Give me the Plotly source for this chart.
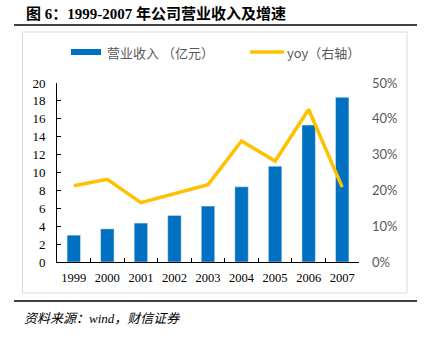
import plotly.graph_objects as go

# Revenue (100 million yuan) and year-over-year growth, 1999-2007
years = ["1999", "2000", "2001", "2002", "2003", "2004", "2005", "2006", "2007"]
revenue = [3.0, 3.7, 4.35, 5.2, 6.25, 8.4, 10.7, 15.3, 18.4]
yoy = [0.213, 0.231, 0.166, 0.19, 0.216, 0.338, 0.282, 0.426, 0.209]

BLUE = "#0070C0"
GOLD = "#FFC000"
GRAY_TXT = "#595959"

W, H = 424, 344
L, R, T, B = 57, 65, 83, 82
PW, PH = W - L - R, H - T - B


def px(x):
    return (x - L) / PW


def py(y):
    return (H - B - y) / PH


fig = go.Figure()
fig.add_trace(go.Bar(x=years, y=revenue, marker_color=BLUE, width=0.4,
                     showlegend=False, yaxis="y"))
fig.add_trace(go.Scatter(x=years, y=yoy, mode="lines", line=dict(color=GOLD, width=3.5),
                         showlegend=False, yaxis="y2"))

serif = "Liberation Serif, Times New Roman, serif"
fig.update_layout(
    width=W, height=H,
    margin=dict(l=L, r=R, t=T, b=B, pad=0),
    paper_bgcolor="white", plot_bgcolor="white",
    xaxis=dict(type="category", range=[-0.5, 8.5], showline=True, linecolor="black",
               linewidth=1, ticks="inside", tickson="boundaries", ticklen=4,
               tickcolor="black", showgrid=False, tickangle=0, ticklabelstandoff=4,
               tickfont=dict(family=serif, size=12.5, color="black")),
    yaxis=dict(range=[0, 20], dtick=2, showline=True, linecolor="black", linewidth=1,
               ticks="inside", ticklen=4, tickcolor="black", showgrid=False, zeroline=False,
               ticklabelstandoff=8,
               tickfont=dict(family=serif, size=13, color="black")),
    yaxis2=dict(range=[0, 0.5], dtick=0.1, tickformat=".0%", overlaying="y", side="right",
                showline=False, showgrid=False, zeroline=False, ticks="",
                ticklabelstandoff=12,
                tickfont=dict(family="Lato, Liberation Sans, sans-serif", size=13, color=GRAY_TXT)),
)

shapes = []
# title rule and footer rule
shapes.append(dict(type="line", xref="paper", yref="paper", x0=px(14), x1=px(417),
                   y0=py(25), y1=py(25), line=dict(color="black", width=1.5)))
shapes.append(dict(type="line", xref="paper", yref="paper", x0=px(14), x1=px(417),
                   y0=py(301), y1=py(301), line=dict(color="black", width=1.5)))
# chart frame
shapes.append(dict(type="rect", xref="paper", yref="paper", x0=px(22.5), x1=px(407),
                   y0=py(293), y1=py(32), line=dict(color="#D9D9D9", width=1), layer="below"))
# legend swatches
shapes.append(dict(type="rect", xref="paper", yref="paper", x0=px(71), x1=px(101),
                   y0=py(55), y1=py(49), fillcolor=BLUE, line=dict(width=0)))
shapes.append(dict(type="line", xref="paper", yref="paper", x0=px(250), x1=px(284),
                   y0=py(52), y1=py(52), line=dict(color=GOLD, width=3.5)))
fig.update_layout(shapes=shapes)

legend_font = dict(family="Noto Sans CJK SC, sans-serif", size=13, color=GRAY_TXT)
annotations = [
    dict(text="<b>图 6：1999-2007 年公司营业收入及增速</b>", x=px(24), y=py(13),
         xanchor="left", yanchor="middle",
         font=dict(family="Liberation Serif, Noto Sans CJK SC, serif", size=15, color="black")),
    dict(text="营业收入 （亿元）", x=px(105), y=py(52), xanchor="left", yanchor="middle",
         font=legend_font),
    dict(text="yoy（右轴）", x=px(285), y=py(52), xanchor="left", yanchor="middle",
         font=legend_font),
    dict(text="<i>资料来源：wind，财信证券</i>", x=px(22), y=py(318), xanchor="left",
         yanchor="middle",
         font=dict(family="Liberation Serif, Noto Sans CJK SC, serif", size=13, color="black")),
]
for a in annotations:
    a.update(xref="paper", yref="paper", showarrow=False)
fig.update_layout(annotations=annotations)

fig.write_html("out.html")
